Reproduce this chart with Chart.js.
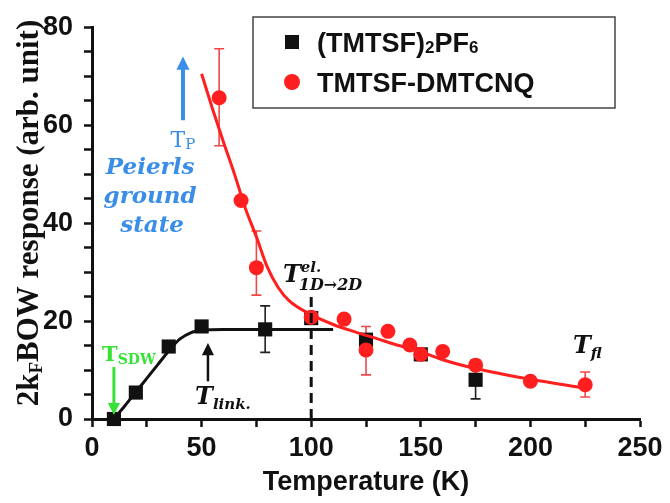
<!DOCTYPE html>
<html>
<head>
<meta charset="utf-8">
<script src="https://cdn.jsdelivr.net/npm/chart.js@4.4.0/dist/chart.umd.min.js"></script>
<style>
  html, body { margin: 0; padding: 0; background: #fff; }
  #wrap { width: 670px; height: 503px; }
</style>
</head>
<body>
<div id="wrap"><canvas id="bowChart" width="670" height="503"></canvas></div>
<script>
// (TMTSF)2PF6 measurements
const pf6Temp = [10, 20, 35, 50, 79, 100, 125, 150, 175];
const pf6Resp = [0, 5.4, 14.8, 18.9, 18.3, 20.6, 16.2, 13.2, 8.0];
const pf6ErrUp = [0, 0, 0, 0, 4.8, 0, 0, 0, 4.0];
const pf6ErrDn = [0, 0, 0, 0, 4.7, 0, 0, 0, 3.9];
// guide curve through the PF6 points
const pf6FitTemp = [10, 15, 20, 25, 30, 35, 40, 45, 50, 60, 80, 110];
const pf6FitResp = [0, 2.7, 5.5, 8.3, 11.1, 13.9, 16.3, 17.6, 18.1, 18.3, 18.3, 18.3];

// TMTSF-DMTCNQ measurements
const dmtTemp = [58, 68, 75, 100, 115, 125, 135, 145, 150, 160, 175, 200, 225];
const dmtResp = [65.6, 44.6, 30.9, 20.8, 20.4, 14.1, 17.9, 15.1, 13.2, 13.8, 11.0, 7.7, 7.0];
const dmtErrUp = [10, 0, 7.5, 0, 0, 4.8, 0, 0, 0, 0, 0, 0, 2.6];
const dmtErrDn = [9.8, 0, 5.6, 0, 0, 5.1, 0, 0, 0, 0, 0, 0, 2.5];
// guide curve through the DMTCNQ points
const dmtFitTemp = [50, 55, 60, 65, 70, 75, 80, 85, 90, 100, 110, 120, 130, 140, 150, 160, 175, 200, 225];
const dmtFitResp = [70.5, 63.3, 56.5, 50, 43, 37.2, 31, 26.8, 24.1, 21.3, 19.3, 17.8, 16.4, 15, 13.7, 12.1, 10.3, 8.1, 6.3];

const xTicks = [0, 50, 100, 150, 200, 250];
const yTicks = [0, 20, 40, 60, 80];

const colors = {
    black: '#111111',
    red: '#ff1f1f',
    redBar: '#f04848',
    blue: '#3a8ee8',
    green: '#36e236'
};

const SANS = '"Liberation Sans", Arial, sans-serif';
const SERIF = '"DejaVu Serif", "Liberation Serif", serif';

function toPoints(xs, ys) {
    return xs.map((x, i) => ({ x: x, y: ys[i] }));
}

// draws a run of text pieces (for sub/superscripts), y is the baseline
function richText(ctx, x, y, runs, align) {
    let w = 0;
    runs.forEach(r => { ctx.font = r[1]; w += ctx.measureText(r[0]).width; });
    let cx = align === 'center' ? x - w / 2 : x;
    ctx.textAlign = 'left';
    ctx.textBaseline = 'alphabetic';
    runs.forEach(r => {
        ctx.font = r[1];
        ctx.fillText(r[0], cx, y + (r[2] || 0));
        cx += ctx.measureText(r[0]).width;
    });
}

function arrow(ctx, x, y0, y1, color, width, head) {
    const dir = y1 < y0 ? 1 : -1;
    ctx.save();
    ctx.strokeStyle = color;
    ctx.fillStyle = color;
    ctx.lineWidth = width;
    ctx.beginPath();
    ctx.moveTo(x, y0);
    ctx.lineTo(x, y1 + dir * head * 0.9);
    ctx.stroke();
    ctx.beginPath();
    ctx.moveTo(x, y1);
    ctx.lineTo(x - head * 0.55, y1 + dir * head * 1.1);
    ctx.lineTo(x + head * 0.55, y1 + dir * head * 1.1);
    ctx.closePath();
    ctx.fill();
    ctx.restore();
}

const errorBars = {
    id: 'errorBars',
    beforeDatasetsDraw(chart) {
        const ctx = chart.ctx;
        const xs = chart.scales.x, ys = chart.scales.y;
        const sets = [
            [pf6Temp, pf6Resp, pf6ErrUp, pf6ErrDn, '#222222'],
            [dmtTemp, dmtResp, dmtErrUp, dmtErrDn, colors.redBar]
        ];
        ctx.save();
        ctx.lineWidth = 1.6;
        sets.forEach(([t, r, up, dn, col]) => {
            ctx.strokeStyle = col;
            t.forEach((tv, i) => {
                if (!up[i] && !dn[i]) return;
                const px = xs.getPixelForValue(tv);
                const top = ys.getPixelForValue(r[i] + up[i]);
                const bot = ys.getPixelForValue(r[i] - dn[i]);
                ctx.beginPath();
                ctx.moveTo(px, top); ctx.lineTo(px, bot);
                ctx.moveTo(px - 5, top); ctx.lineTo(px + 5, top);
                ctx.moveTo(px - 5, bot); ctx.lineTo(px + 5, bot);
                ctx.stroke();
            });
        });
        ctx.restore();
    }
};

const annotations = {
    id: 'annotations',
    afterDatasetsDraw(chart) {
        const ctx = chart.ctx;
        const X = v => chart.scales.x.getPixelForValue(v);
        const Y = v => chart.scales.y.getPixelForValue(v);

        ctx.save();
        // 1D -> 2D crossover marker
        ctx.strokeStyle = colors.black;
        ctx.lineWidth = 3;
        ctx.setLineDash([10, 6]);
        ctx.beginPath();
        ctx.moveTo(X(100), Y(0));
        ctx.lineTo(X(100), Y(26));
        ctx.stroke();
        ctx.setLineDash([]);

        // Peierls transition
        arrow(ctx, X(41.5), Y(61), Y(74), colors.blue, 4, 12);
        ctx.fillStyle = colors.blue;
        richText(ctx, X(41.5), Y(57.2) + 8, [['T', '22px ' + SERIF], ['P', '15px ' + SERIF, 2]], 'center');
        ctx.font = 'italic bold 23px ' + SERIF;
        ctx.textAlign = 'center';
        ctx.textBaseline = 'middle';
        ctx.fillText('Peierls', X(26.5), Y(51.3));
        ctx.fillText('ground', X(26.5), Y(45.4));
        ctx.fillText('state', X(27.4), Y(39.5));

        // SDW transition
        arrow(ctx, X(10), Y(10.6), Y(0.8), colors.green, 3, 11);
        ctx.fillStyle = colors.green;
        richText(ctx, X(4.6), Y(13.2) + 7, [['T', 'bold 21px ' + SERIF], ['SDW', 'bold 14px ' + SERIF, 3]]);

        // interchain link
        arrow(ctx, X(52.9), Y(7.7), Y(15.5), colors.black, 2.5, 11);
        ctx.fillStyle = colors.black;
        richText(ctx, X(47), Y(4.7) + 8, [['T', 'italic bold 24px ' + SERIF], ['link.', 'italic bold 15px ' + SERIF, 5]]);

        // electronic 1D -> 2D
        richText(ctx, X(87.1), Y(29.7) + 8, [['T', 'italic bold 24px ' + SERIF]]);
        ctx.font = 'italic bold 24px ' + SERIF;
        const tw = ctx.measureText('T').width;
        richText(ctx, X(87.1) + tw, Y(29.7) - 2, [['el.', 'italic bold 15px ' + SERIF]]);
        richText(ctx, X(87.1) + tw - 2, Y(29.7) + 16, [['1D\u21922D', 'italic bold 16px ' + SERIF]]);

        // fluctuation regime
        richText(ctx, X(219.4), Y(15.1) + 8, [['T', 'italic bold 24px ' + SERIF], ['fl', 'italic bold 15px ' + SERIF, 5]]);
        ctx.restore();
    },
    afterDraw(chart) {
        const ctx = chart.ctx;
        ctx.save();
        // y axis title with subscript
        ctx.translate(28, 213);
        ctx.rotate(-Math.PI / 2);
        ctx.fillStyle = colors.black;
        richText(ctx, 0, 10, [
            ['2k', 'bold 31px "Liberation Serif", serif'],
            ['F', 'bold 19px "Liberation Serif", serif', 4],
            ['BOW response (arb. unit)', 'bold 31px "Liberation Serif", serif']
        ], 'center');
        ctx.restore();

        // legend box
        ctx.save();
        ctx.strokeStyle = '#444';
        ctx.lineWidth = 1.5;
        ctx.strokeRect(253, 17, 362, 91);
        ctx.fillStyle = colors.black;
        ctx.fillRect(285, 35, 14, 14);
        ctx.fillStyle = colors.red;
        ctx.beginPath();
        ctx.arc(292, 82, 8, 0, Math.PI * 2);
        ctx.fill();
        ctx.fillStyle = colors.black;
        const lf = 'bold 27px ' + SANS, ls = 'bold 17px ' + SANS;
        richText(ctx, 317, 52, [['(TMTSF)', lf], ['2', ls, 1], ['PF', lf], ['6', ls, 1]]);
        richText(ctx, 317, 92, [['TMTSF-DMTCNQ', lf]]);
        ctx.restore();
    }
};

const ctx = document.getElementById('bowChart').getContext('2d');

new Chart(ctx, {
    type: 'scatter',
    data: {
        datasets: [
            {
                label: '(TMTSF)2PF6 fit',
                data: toPoints(pf6FitTemp, pf6FitResp),
                showLine: true,
                borderColor: colors.black,
                borderWidth: 3,
                pointRadius: 0,
                cubicInterpolationMode: 'monotone',
                order: 4,
                clip: false
            },
            {
                label: '(TMTSF)2PF6',
                data: toPoints(pf6Temp, pf6Resp),
                pointStyle: 'rect',
                pointRadius: 10,
                backgroundColor: colors.black,
                borderWidth: 0,
                order: 3,
                clip: false
            },
            {
                label: 'TMTSF-DMTCNQ fit',
                data: toPoints(dmtFitTemp, dmtFitResp),
                showLine: true,
                borderColor: colors.red,
                borderWidth: 3,
                pointRadius: 0,
                cubicInterpolationMode: 'monotone',
                order: 2,
                clip: false
            },
            {
                label: 'TMTSF-DMTCNQ',
                data: toPoints(dmtTemp, dmtResp),
                pointStyle: 'circle',
                pointRadius: 7.5,
                backgroundColor: colors.red,
                borderWidth: 0,
                order: 1,
                clip: false
            }
        ]
    },
    options: {
        responsive: false,
        animation: false,
        layout: { padding: { top: 12, right: 30, left: 0, bottom: 0 } },
        plugins: {
            legend: { display: false },
            tooltip: { enabled: false }
        },
        scales: {
            x: {
                type: 'linear',
                min: 0,
                max: 250,
                afterFit: s => { s.height = 84; },
                border: { display: true, color: colors.black, width: 3 },
                grid: { drawOnChartArea: false, drawTicks: true, tickLength: 8, tickWidth: 2.5, tickColor: colors.black },
                ticks: {
                    stepSize: 25,
                    padding: 5,
                    maxRotation: 0,
                    autoSkip: false,
                    color: colors.black,
                    font: { family: SANS, size: 27, weight: 'bold' },
                    callback: v => xTicks.includes(v) ? v : ''
                },
                title: {
                    display: true,
                    text: 'Temperature (K)',
                    color: colors.black,
                    padding: { top: 0, bottom: 4 },
                    font: { family: SANS, size: 27, weight: 'bold' }
                }
            },
            y: {
                type: 'linear',
                min: 0,
                max: 80,
                afterFit: s => { s.width = 92; },
                border: { display: true, color: colors.black, width: 3 },
                grid: { drawOnChartArea: false, drawTicks: true, tickLength: 8, tickWidth: 2.5, tickColor: colors.black },
                ticks: {
                    stepSize: 5,
                    padding: 11,
                    autoSkip: false,
                    color: colors.black,
                    font: { family: SANS, size: 27, weight: 'bold' },
                    callback: v => yTicks.includes(v) ? v : ''
                }
            }
        }
    },
    plugins: [errorBars, annotations]
});
</script>
</body>
</html>
